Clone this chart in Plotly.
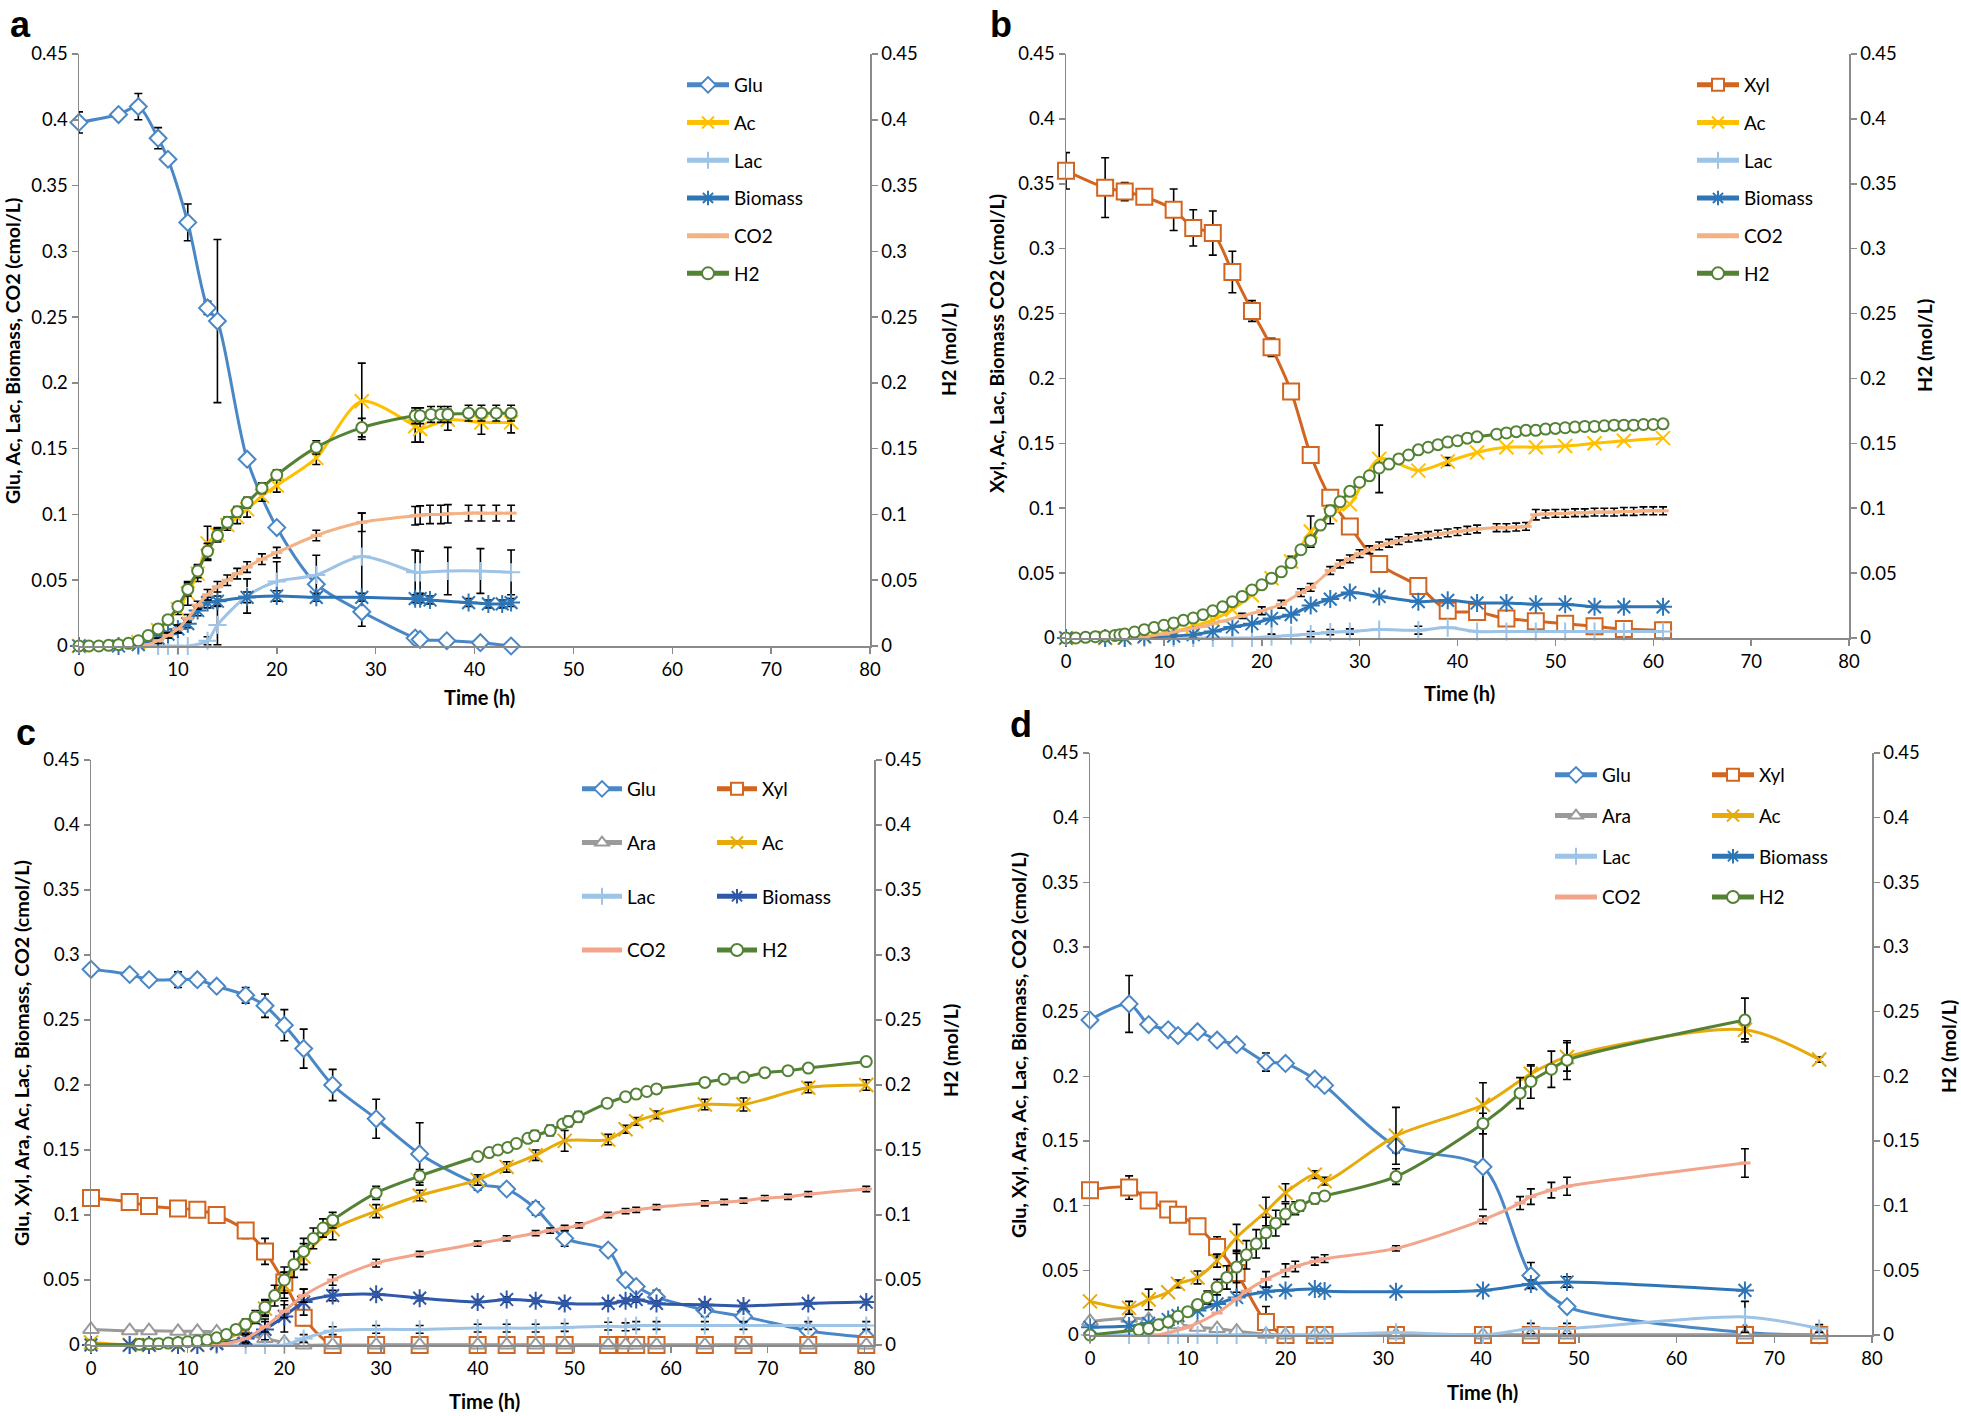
import plotly.graph_objects as go

# ---------------- tick labels ----------------
Y_TICKVALS = [0, 0.05, 0.1, 0.15, 0.2, 0.25, 0.3, 0.35, 0.4, 0.45]
Y_TICKTEXT = ["0", "0.05", "0.1", "0.15", "0.2", "0.25", "0.3", "0.35", "0.4", "0.45"]
X_TICKVALS = [0, 10, 20, 30, 40, 50, 60, 70, 80]
X_TICKTEXT = ["0", "10", "20", "30", "40", "50", "60", "70", "80"]

# ---------------- panel a ----------------
GLU_A_T = [0, 4, 6, 8, 9, 11, 13, 14, 17, 20, 24, 28.6, 34, 34.5, 37.2, 40.6, 43.7]
GLU_A = [0.398, 0.404, 0.410, 0.386, 0.370, 0.322, 0.257, 0.247, 0.142, 0.090, 0.047, 0.026, 0.006, 0.005, 0.004, 0.0025, 0.0]
GLU_A_E = [0.008, 0, 0.010, 0.008, 0, 0.014, 0.005, 0.062, 0, 0, 0, 0.011, 0.004, 0, 0.003, 0, 0]

AC_A_T = [0, 6, 8, 10, 11, 12, 13, 14, 15, 16, 17, 18.5, 20, 24, 28.6, 34, 34.5, 37.3, 40.7, 43.7]
AC_A = [0, 0.003, 0.012, 0.028, 0.040, 0.055, 0.078, 0.085, 0.092, 0.098, 0.104, 0.114, 0.122, 0.143, 0.186, 0.167, 0.165, 0.172, 0.170, 0.170]
AC_A_E = [0, 0, 0, 0.004, 0.009, 0.006, 0.013, 0.005, 0.004, 0.005, 0.006, 0.004, 0.005, 0.005, 0.029, 0.012, 0.010, 0.008, 0.009, 0.008]

LAC_A_T = [0, 6, 8, 9, 10, 11, 13, 14, 17, 20, 24, 28.6, 34, 34.5, 37.3, 40.6, 43.7]
LAC_A = [0, 0, 0, 0, 0, 0, 0.004, 0.016, 0.038, 0.049, 0.054, 0.068, 0.056, 0.056, 0.057, 0.057, 0.056]
LAC_A_E = [0, 0, 0, 0, 0, 0, 0.003, 0.015, 0.013, 0.015, 0.015, 0.033, 0.017, 0.016, 0.018, 0.017, 0.017]

BIO_A_T = [0, 4, 6, 8, 9, 10, 11, 12, 13, 14, 17, 20, 24, 28.6, 34, 34.5, 35.5, 39.4, 41.4, 42.8, 43.7]
BIO_A = [0, 0, 0.001, 0.006, 0.009, 0.013, 0.017, 0.027, 0.033, 0.034, 0.037, 0.038, 0.037, 0.037, 0.036, 0.036, 0.035, 0.033, 0.032, 0.032, 0.033]
BIO_A_E = [0, 0, 0, 0.002, 0.002, 0.003, 0.003, 0.004, 0.004, 0.004, 0.004, 0.004, 0.003, 0.003, 0.003, 0.003, 0.003, 0.003, 0.003, 0.003, 0.003]

CO2_A_T = [6, 7, 8, 9, 10, 11, 12, 13, 14, 15, 16, 17, 18.5, 20, 24, 28.6, 34, 34.5, 35.5, 36.6, 37.3, 39.4, 40.7, 42.2, 43.7]
CO2_A = [0, 0.001, 0.004, 0.008, 0.013, 0.021, 0.031, 0.039, 0.045, 0.050, 0.055, 0.060, 0.066, 0.071, 0.084, 0.094, 0.099, 0.0995, 0.100, 0.100, 0.1005, 0.101, 0.101, 0.101, 0.101]
CO2_A_E = [0, 0, 0.002, 0.002, 0.003, 0.003, 0.003, 0.004, 0.004, 0.004, 0.004, 0.004, 0.004, 0.004, 0.004, 0.007, 0.007, 0.007, 0.007, 0.007, 0.007, 0.006, 0.006, 0.006, 0.006]

H2_A_T = [0, 1, 2, 3, 4, 5, 6, 7, 8, 9, 10, 11, 12, 13, 14, 15, 16, 17, 18.5, 20, 24, 28.6, 34, 34.5, 35.6, 36.6, 37.3, 39.4, 40.7, 42.2, 43.7]
H2_A = [0, 0, 0, 0.0005, 0.001, 0.002, 0.004, 0.008, 0.013, 0.020, 0.030, 0.043, 0.057, 0.072, 0.084, 0.094, 0.102, 0.109, 0.120, 0.130, 0.151, 0.166, 0.175, 0.175, 0.176, 0.176, 0.176, 0.177, 0.177, 0.177, 0.177]
H2_A_E = [0, 0, 0, 0, 0, 0, 0, 0, 0, 0.003, 0.003, 0.005, 0.005, 0.006, 0.005, 0.004, 0.004, 0.004, 0.004, 0.004, 0.005, 0.007, 0.006, 0.006, 0.006, 0.006, 0.006, 0.006, 0.006, 0.006, 0.006]

# ---------------- panel b ----------------
T_B = [0, 4, 6, 8, 11, 13, 15, 17, 19, 21, 23, 25, 27, 29, 32, 36, 39, 42, 45, 48, 51, 54, 57, 61]
XYL_B = [0.360, 0.347, 0.344, 0.340, 0.330, 0.316, 0.312, 0.282, 0.252, 0.224, 0.190, 0.141, 0.108, 0.086, 0.057, 0.040, 0.021, 0.020, 0.015, 0.013, 0.011, 0.009, 0.007, 0.006]
XYL_B_E = [0.014, 0.023, 0.007, 0, 0.016, 0.014, 0.017, 0.016, 0.008, 0.007, 0, 0, 0, 0, 0, 0, 0, 0, 0, 0, 0, 0, 0, 0]
AC_B = [0, 0, 0, 0.001, 0.005, 0.009, 0.014, 0.022, 0.033, 0.046, 0.059, 0.082, 0.095, 0.103, 0.138, 0.129, 0.136, 0.143, 0.147, 0.147, 0.148, 0.150, 0.152, 0.154]
AC_B_E = [0, 0, 0, 0, 0, 0, 0, 0, 0, 0, 0.004, 0.012, 0.007, 0, 0.026, 0, 0.003, 0, 0, 0, 0, 0, 0, 0]
LAC_B = [0, 0, 0, 0, 0, 0, 0, 0, 0, 0.001, 0.002, 0.003, 0.0045, 0.005, 0.0065, 0.006, 0.008, 0.005, 0.005, 0.005, 0.005, 0.005, 0.005, 0.005]
LAC_B_E = [0, 0, 0, 0, 0, 0, 0, 0, 0, 0.002, 0, 0.002, 0.002, 0.002, 0, 0.003, 0, 0, 0, 0, 0, 0, 0, 0]
BIO_B = [0, 0, 0, 0.001, 0.0015, 0.0026, 0.005, 0.0085, 0.011, 0.015, 0.018, 0.025, 0.030, 0.035, 0.032, 0.028, 0.029, 0.027, 0.027, 0.026, 0.026, 0.024, 0.024, 0.024]

CO2_B_T = [6, 8, 10, 12, 14, 16, 18, 20, 22, 24, 25, 27, 28, 29, 30, 31, 32, 33, 34, 35, 36, 37, 38, 39, 40, 41, 42,
           44, 45, 46, 47, 48, 49, 50, 51, 52, 53, 54, 55, 56, 57, 58, 59, 60, 61]
CO2_B = [0, 0.001, 0.003, 0.006, 0.009, 0.013, 0.017, 0.021, 0.026, 0.035, 0.039,
         0.052, 0.057, 0.061, 0.065, 0.068, 0.071, 0.073, 0.075, 0.077, 0.078, 0.079, 0.080, 0.081, 0.082, 0.083, 0.084,
         0.085, 0.085, 0.0855, 0.086, 0.095, 0.0955, 0.096, 0.096, 0.0965, 0.0965, 0.097, 0.097, 0.097, 0.0975, 0.0975, 0.098, 0.098, 0.098]
CO2_B_E = [0, 0, 0, 0, 0, 0, 0.002, 0.003, 0.003, 0.003, 0.003,
           0.003, 0.003, 0.003, 0.003, 0.003, 0.003, 0.003, 0.003, 0.003, 0.003, 0.003, 0.003, 0.003, 0.003, 0.003, 0.003,
           0.003, 0.003, 0.003, 0.003, 0.004, 0.003, 0.003, 0.003, 0.003, 0.003, 0.003, 0.003, 0.003, 0.003, 0.003, 0.003, 0.003, 0.003]

H2_B_T = [0, 1, 2, 3, 4, 5, 5.5, 6, 7, 8, 9, 10, 11, 12, 13, 14, 15, 16, 17, 18, 19, 20, 21, 22, 23, 24, 25, 26, 27, 28,
          29, 30, 31, 32, 33, 34, 35, 36, 37, 38, 39, 40, 41, 42, 44, 45, 46, 47, 48, 49, 50, 51, 52, 53, 54, 55, 56,
          57, 58, 59, 60, 61]
H2_B = [0, 0, 0.0005, 0.001, 0.0015, 0.002, 0.0025, 0.003, 0.0046, 0.0064, 0.008, 0.0098, 0.0116, 0.0136, 0.0154, 0.018,
        0.021, 0.024, 0.028, 0.032, 0.037, 0.041, 0.046, 0.051, 0.058, 0.068, 0.075, 0.087, 0.098, 0.105,
        0.113, 0.120, 0.125, 0.131, 0.134, 0.138, 0.141, 0.145, 0.147, 0.149, 0.151, 0.152, 0.154, 0.155, 0.157, 0.158,
        0.159, 0.160, 0.160, 0.161, 0.1615, 0.162, 0.1625, 0.163, 0.163, 0.1635, 0.164, 0.164, 0.164, 0.1645, 0.1645, 0.165]

# ---------------- panel c ----------------
T_C = [0, 4, 6, 9, 11, 13, 16, 18, 20, 22, 25, 29.5, 34, 40, 43, 46, 49, 53.5, 55.3, 56.4, 58.5, 63.5, 67.5, 74.2, 80.2]
GLU_C = [0.289, 0.285, 0.281, 0.281, 0.281, 0.276, 0.269, 0.261, 0.246, 0.228, 0.200, 0.174, 0.147, 0.124, 0.120, 0.105, 0.082, 0.073, 0.050, 0.045, 0.037, 0.027, 0.022, 0.011, 0.006]
GLU_C_E = [0, 0.003, 0, 0.006, 0.004, 0, 0.006, 0.009, 0.012, 0.015, 0.012, 0.015, 0.024, 0.005, 0.004, 0.005, 0.006, 0.004, 0, 0, 0.005, 0.005, 0.004, 0.004, 0.004]
XYL_C = [0.113, 0.110, 0.107, 0.105, 0.104, 0.100, 0.088, 0.072, 0.048, 0.021, 0, 0, 0, 0, 0, 0, 0, 0, 0, 0, 0, 0, 0, 0, 0]
XYL_C_E = [0, 0, 0, 0, 0, 0, 0.006, 0.010, 0.008, 0.006, 0, 0, 0, 0, 0, 0, 0, 0, 0, 0, 0, 0, 0, 0, 0]
ARA_C = [0.012, 0.011, 0.011, 0.0105, 0.0105, 0.010, 0.008, 0.005, 0.002, 0, 0, 0, 0, 0, 0, 0, 0, 0, 0, 0, 0, 0, 0, 0, 0]
AC_C = [0.002, 0, 0, 0, 0, 0.002, 0.012, 0.028, 0.046, 0.068, 0.089, 0.103, 0.115, 0.127, 0.137, 0.146, 0.157, 0.158, 0.166, 0.172, 0.177, 0.185, 0.185, 0.198, 0.200]
AC_C_E = [0, 0, 0, 0, 0, 0, 0.003, 0.006, 0.010, 0.010, 0.008, 0.005, 0.004, 0.004, 0.004, 0.004, 0.008, 0.004, 0.003, 0.003, 0.003, 0.004, 0.005, 0.004, 0.004]
LAC_C = [0, 0, 0, 0, 0, 0, 0, 0, 0, 0.005, 0.011, 0.012, 0.012, 0.013, 0.013, 0.013, 0.0135, 0.0145, 0.014, 0.015, 0.015, 0.015, 0.015, 0.015, 0.015]
LAC_C_E = [0, 0, 0, 0, 0, 0, 0, 0, 0, 0.003, 0.003, 0.003, 0.003, 0.003, 0.003, 0.003, 0.003, 0.003, 0.003, 0.003, 0.003, 0.003, 0.003, 0.003, 0.003]
BIO_C = [0, 0, 0, 0, 0, 0.001, 0.005, 0.012, 0.022, 0.033, 0.038, 0.039, 0.036, 0.033, 0.035, 0.034, 0.032, 0.032, 0.034, 0.035, 0.032, 0.031, 0.030, 0.032, 0.033]
BIO_C_E = [0, 0, 0, 0, 0, 0, 0.004, 0.008, 0.012, 0.010, 0.004, 0.002, 0.002, 0.002, 0.002, 0.002, 0.002, 0.002, 0.002, 0.002, 0.002, 0.002, 0.002, 0.002, 0.002]

CO2_C_T = [13, 14, 16, 18, 20, 22, 25, 29.5, 34, 40, 43, 46, 47.5, 49, 50.5, 53.5, 55.3, 56.4, 58.5, 63.5, 65.5, 67.5, 69.7, 72.1, 74.2, 80.2]
CO2_C = [0, 0.001, 0.005, 0.014, 0.026, 0.038, 0.050, 0.063, 0.070, 0.078, 0.082, 0.086, 0.088, 0.090, 0.092, 0.100, 0.103, 0.104, 0.106, 0.109, 0.110, 0.111, 0.113, 0.114, 0.116, 0.120]
CO2_C_E = [0, 0, 0.003, 0.004, 0.005, 0.005, 0.004, 0.003, 0.002, 0.002, 0.002, 0.002, 0.002, 0.002, 0.002, 0.002, 0.002, 0.002, 0.002, 0.002, 0.002, 0.002, 0.002, 0.002, 0.002, 0.002]

H2_C_T = [0, 5, 6, 7, 8, 9, 10, 11, 12, 13, 14, 15, 16, 17, 18, 19, 20, 21, 22, 23, 24, 25, 29.5, 34, 40,
          41.2, 42.1, 43.1, 44, 45.2, 45.9, 47.5, 48.8, 49.4, 50.4, 53.4, 55.3, 56.4, 57.5, 58.5,
          63.5, 65.5, 67.5, 69.7, 72.1, 74.2, 80.2]
H2_C = [0, 0.0005, 0.001, 0.001, 0.0015, 0.002, 0.0025, 0.003, 0.004, 0.0055, 0.008, 0.012, 0.016, 0.0215, 0.029,
        0.038, 0.050, 0.062, 0.072, 0.082, 0.090, 0.096, 0.117, 0.130, 0.145,
        0.148, 0.150, 0.152, 0.155, 0.159, 0.161, 0.165, 0.170, 0.172, 0.1755, 0.186, 0.191, 0.193, 0.195, 0.197,
        0.202, 0.2045, 0.206, 0.2095, 0.211, 0.213, 0.218]
H2_C_E = [0, 0, 0, 0, 0, 0, 0, 0, 0, 0, 0, 0.003, 0.004, 0.005, 0.006, 0.008, 0.010, 0.010, 0.010, 0.008, 0.007, 0.006,
          0.005, 0.005, 0, 0, 0, 0, 0, 0, 0.004, 0.004, 0, 0.004, 0.004, 0, 0, 0, 0, 0, 0, 0, 0, 0, 0, 0, 0]

# ---------------- panel d ----------------
T_D = [0, 4, 6, 8, 9, 11, 13, 15, 18, 20, 23, 24, 31.3, 40.2, 45.1, 48.8, 67, 74.6]
GLU_D = [0.2435, 0.256, 0.240, 0.236, 0.2315, 0.2345, 0.228, 0.2245, 0.211, 0.210, 0.198, 0.193, 0.146, 0.130, 0.046, 0.022, 0.002, 0]
GLU_D_E = [0, 0.022, 0, 0, 0, 0.002, 0.003, 0, 0.007, 0.004, 0, 0.004, 0.005, 0.033, 0.010, 0, 0, 0]
XYL_D = [0.112, 0.114, 0.104, 0.097, 0.093, 0.084, 0.068, 0.048, 0.010, 0, 0, 0, 0, 0, 0, 0, 0, 0]
XYL_D_E = [0, 0.009, 0, 0, 0, 0, 0.008, 0.015, 0.012, 0, 0, 0, 0, 0, 0, 0, 0, 0]
ARA_D = [0.0105, 0.013, 0.012, 0.009, 0.008, 0.006, 0.005, 0.003, 0.0005, 0, 0, 0, 0, 0, 0, 0, 0, 0]
AC_D = [0.026, 0.021, 0.0275, 0.033, 0.0395, 0.0445, 0.0575, 0.0755, 0.0955, 0.110, 0.124, 0.119, 0.154, 0.178, 0.202, 0.215, 0.236, 0.213]
AC_D_E = [0, 0.005, 0.008, 0, 0.003, 0.005, 0.005, 0.010, 0.011, 0.007, 0.003, 0.003, 0.022, 0.017, 0.006, 0.011, 0.007, 0.002]
LAC_D = [0, 0, 0, 0, 0, 0, 0, 0, 0, 0, 0, 0, 0.002, 0, 0.005, 0.005, 0.014, 0.005]
LAC_D_E = [0, 0, 0, 0, 0, 0, 0, 0, 0, 0, 0, 0, 0, 0, 0.004, 0.004, 0.012, 0.003]
BIO_D_T = [0, 4, 6, 8, 9, 11, 13, 15, 18, 20, 23, 24, 31.3, 40.2, 45.1, 48.8, 67]
BIO_D = [0.006, 0.007, 0.009, 0.012, 0.015, 0.019, 0.024, 0.029, 0.0335, 0.0345, 0.0355, 0.034, 0.0335, 0.0345, 0.0395, 0.041, 0.0345]
BIO_D_E = [0, 0, 0, 0, 0, 0, 0, 0, 0, 0, 0, 0, 0, 0, 0.003, 0.004, 0]
CO2_D_T = [7, 10, 13, 15, 16, 18, 20, 21, 23, 24, 31.3, 40.2, 44, 45.1, 47.2, 48.8, 67]
CO2_D = [0, 0.006, 0.017, 0.028, 0.034, 0.043, 0.050, 0.053, 0.057, 0.059, 0.067, 0.089, 0.102, 0.107, 0.112, 0.115, 0.133]
CO2_D_E = [0, 0, 0, 0, 0, 0.006, 0.005, 0.004, 0.003, 0.003, 0.002, 0.003, 0.005, 0.006, 0.006, 0.007, 0.011]
H2_D_T = [0, 5, 6, 7, 8, 9, 10, 11, 12, 13, 14, 15, 16, 17, 18, 19, 20, 21, 21.5, 23, 24, 31.3, 40.2, 44, 45.1, 47.2, 48.8, 67]
H2_D = [0, 0.004, 0.005, 0.008, 0.010, 0.0145, 0.018, 0.0235, 0.029, 0.037, 0.0445, 0.0525, 0.062, 0.0705, 0.079,
        0.0865, 0.0935, 0.098, 0.100, 0.1055, 0.1075, 0.1225, 0.1635, 0.187, 0.196, 0.2055, 0.2125, 0.2435]
H2_D_E = [0, 0, 0, 0, 0, 0, 0, 0.003, 0.005, 0.006, 0.009, 0.012, 0.011, 0.011, 0.012, 0.010, 0.008, 0.005, 0.004,
          0.004, 0.003, 0.006, 0.008, 0.012, 0.013, 0.014, 0.015, 0.017]

# ---------------- styling ----------------
W, H = 1961, 1416
FONT = "Lato"
C_GLU = "#4A87C6"
C_XYL = "#D2651F"
C_ARA = "#9A9A9A"
C_AC1 = "#FFC000"
C_AC2 = "#E6AA0A"
C_LAC = "#9DC3E6"
C_BIO1 = "#2E75B6"
C_BIO2 = "#2F58A8"
C_CO21 = "#F4B183"
C_CO22 = "#F3A58C"
C_H2 = "#548235"
AXIS_COL = "#8A8A8A"

STYLES = {
    "Glu": dict(symbol="diamond", size=13, color="white", lc=C_GLU, lw=2),
    "Xyl": dict(symbol="square", size=16, color="white", lc=C_XYL, lw=2),
    "Ara": dict(symbol="triangle-up", size=14, color="white", lc=C_ARA, lw=2),
    "Ac": dict(symbol="x-thin-open", size=14, color=None, lc=None, lw=2),
    "Lac": dict(symbol="cross-thin-open", size=13, color=None, lc=None, lw=2),
    "Biomass": dict(symbol="asterisk-open", size=15, color=None, lc=None, lw=2),
    "CO2": dict(symbol="line-ew-open", size=8, color=None, lc=None, lw=3),
    "H2": dict(symbol="circle", size=11, color="white", lc=C_H2, lw=2),
}

# panel geometry in pixels (left, right, top, bottom) and x max
PANELS = [
    dict(l=79, r=870, t=54, b=646, xmax=80),
    dict(l=1066, r=1849, t=54, b=638, xmax=80),
    dict(l=91, r=874, t=760, b=1345, xmax=81),
    dict(l=1090, r=1872, t=753, b=1335, xmax=80),
]

fig = go.Figure()


def err_arr(e):
    return [("NaN" if v == 0 else v) for v in e]


def add(panel, name, t, v, e, line_color, legend, right=False):
    st = STYLES[name]
    mc = st["color"] if st["color"] is not None else line_color
    mlc = st["lc"] if st["lc"] is not None else line_color
    xa = "x" if panel == 0 else "x%d" % (panel + 1)
    ya_idx = 2 * panel + (2 if right else 1)
    ya = "y" if ya_idx == 1 else "y%d" % ya_idx
    tr = go.Scatter(
        x=t, y=v, name=name, mode="lines+markers",
        line=dict(color=line_color, width=3, shape="spline", smoothing=0.8),
        marker=dict(symbol=st["symbol"], size=st["size"], color=mc,
                    line=dict(color=mlc, width=st["lw"])),
        xaxis=xa, yaxis=ya, cliponaxis=False,
        legend=legend, legendgroup="%s_%d" % (name, panel),
        hoverinfo="skip",
    )
    if e is not None:
        tr.error_y = dict(type="data", array=err_arr(e), symmetric=True, visible=True,
                          color="black", thickness=1.6, width=4)
    fig.add_trace(tr)


# panel a
add(0, "Glu", GLU_A_T, GLU_A, GLU_A_E, C_GLU, "legend")
add(0, "Ac", AC_A_T, AC_A, AC_A_E, C_AC1, "legend")
add(0, "Lac", LAC_A_T, LAC_A, LAC_A_E, C_LAC, "legend")
add(0, "Biomass", BIO_A_T, BIO_A, BIO_A_E, C_BIO1, "legend")
add(0, "CO2", CO2_A_T, CO2_A, CO2_A_E, C_CO21, "legend")
add(0, "H2", H2_A_T, H2_A, H2_A_E, C_H2, "legend", right=True)

# panel b
add(1, "Xyl", T_B, XYL_B, XYL_B_E, C_XYL, "legend2")
add(1, "Ac", T_B, AC_B, AC_B_E, C_AC1, "legend2")
add(1, "Lac", T_B, LAC_B, LAC_B_E, C_LAC, "legend2")
add(1, "Biomass", T_B, BIO_B, None, C_BIO1, "legend2")
add(1, "CO2", CO2_B_T, CO2_B, CO2_B_E, C_CO21, "legend2")
add(1, "H2", H2_B_T, H2_B, None, C_H2, "legend2", right=True)

# panel c
add(2, "Glu", T_C, GLU_C, GLU_C_E, C_GLU, "legend3")
add(2, "Xyl", T_C, XYL_C, XYL_C_E, C_XYL, "legend4")
add(2, "Ara", T_C, ARA_C, None, C_ARA, "legend3")
add(2, "Ac", T_C, AC_C, AC_C_E, C_AC2, "legend4")
add(2, "Lac", T_C, LAC_C, LAC_C_E, C_LAC, "legend3")
add(2, "Biomass", T_C, BIO_C, BIO_C_E, C_BIO2, "legend4")
add(2, "CO2", CO2_C_T, CO2_C, CO2_C_E, C_CO22, "legend3")
add(2, "H2", H2_C_T, H2_C, H2_C_E, C_H2, "legend4", right=True)

# panel d
add(3, "Glu", T_D, GLU_D, GLU_D_E, C_GLU, "legend5")
add(3, "Xyl", T_D, XYL_D, XYL_D_E, C_XYL, "legend6")
add(3, "Ara", T_D, ARA_D, None, C_ARA, "legend5")
add(3, "Ac", T_D, AC_D, AC_D_E, C_AC2, "legend6")
add(3, "Lac", T_D, LAC_D, LAC_D_E, C_LAC, "legend5")
add(3, "Biomass", BIO_D_T, BIO_D, BIO_D_E, C_BIO1, "legend6")
add(3, "CO2", CO2_D_T, CO2_D, CO2_D_E, C_CO22, "legend5")
add(3, "H2", H2_D_T, H2_D, H2_D_E, C_H2, "legend6", right=True)

layout = dict(
    width=W, height=H, margin=dict(l=0, r=0, t=0, b=0, pad=0, autoexpand=False),
    paper_bgcolor="white", plot_bgcolor="rgba(0,0,0,0)",
    font=dict(family=FONT, size=18, color="black"),
    hovermode=False,
)

TICK_FONT = dict(family=FONT, size=18.5, color="black")
for i, p in enumerate(PANELS):
    xd = [p["l"] / W, p["r"] / W]
    yd = [1 - p["b"] / H, 1 - p["t"] / H]
    xk = "xaxis" if i == 0 else "xaxis%d" % (i + 1)
    ylk = "yaxis" if i == 0 else "yaxis%d" % (2 * i + 1)
    yrk = "yaxis%d" % (2 * i + 2)
    xname = "x" if i == 0 else "x%d" % (i + 1)
    ylname = "y" if i == 0 else "y%d" % (2 * i + 1)
    common = dict(showgrid=False, zeroline=False, showline=True, linecolor=AXIS_COL, linewidth=1.5,
                  ticks="outside", ticklen=6, tickcolor=AXIS_COL, tickwidth=1.5, automargin=False,
                  tickfont=TICK_FONT)
    layout[xk] = dict(domain=xd, anchor=ylname, range=[0, p["xmax"]], tickvals=X_TICKVALS, ticktext=X_TICKTEXT,
                      **common)
    layout[ylk] = dict(domain=yd, anchor=xname, range=[0, 0.45], tickvals=Y_TICKVALS, ticktext=Y_TICKTEXT,
                       **common)
    layout[yrk] = dict(overlaying=ylname, anchor=xname, side="right", range=[0, 0.45], tickvals=Y_TICKVALS,
                       ticktext=Y_TICKTEXT, **common)

LEG = dict(font=dict(family=FONT, size=19, color="black"), bgcolor="rgba(0,0,0,0)",
           xanchor="left", yanchor="top", traceorder="grouped", itemsizing="constant")
layout["legend"] = dict(x=682 / W, y=1 - 66 / H, tracegroupgap=10, itemwidth=42, **LEG)
layout["legend2"] = dict(x=1692 / W, y=1 - 66 / H, tracegroupgap=10, itemwidth=42, **LEG)
layout["legend3"] = dict(x=577 / W, y=1 - 770 / H, tracegroupgap=26, itemwidth=40, **LEG)
layout["legend4"] = dict(x=712 / W, y=1 - 770 / H, tracegroupgap=26, itemwidth=40, **LEG)
layout["legend5"] = dict(x=1550 / W, y=1 - 756 / H, tracegroupgap=13, itemwidth=42, **LEG)
layout["legend6"] = dict(x=1707 / W, y=1 - 756 / H, tracegroupgap=13, itemwidth=42, **LEG)

fig.update_layout(**layout)

ann = []


def label(text, x, y, size, family, angle=0, xanchor="center", yanchor="middle"):
    ann.append(dict(text=text, x=x / W, y=1 - y / H, xref="paper", yref="paper", showarrow=False,
                    textangle=angle, xanchor=xanchor, yanchor=yanchor,
                    font=dict(family=family, size=size, color="black")))


# panel letters
label("<b>a</b>", 8, 47, 36, "Liberation Sans", xanchor="left", yanchor="bottom")
label("<b>b</b>", 988, 47, 36, "Liberation Sans", xanchor="left", yanchor="bottom")
label("<b>c</b>", 14, 755, 36, "Liberation Sans", xanchor="left", yanchor="bottom")
label("<b>d</b>", 1008, 747, 36, "Liberation Sans", xanchor="left", yanchor="bottom")

# y titles
label("<b>Glu, Ac, Lac, Biomass, CO2 (cmol/L)</b>", 12, 351, 19.5, FONT, angle=-90)
label("<b>H2 (mol/L)</b>", 949, 350, 19.5, FONT, angle=-90)
label("<b>Xyl, Ac, Lac, Biomass CO2 (cmol/L)</b>", 996, 344, 19.5, FONT, angle=-90)
label("<b>H2 (mol/L)</b>", 1925, 346, 19.5, FONT, angle=-90)
label("<b>Glu, Xyl, Ara, Ac, Lac, Biomass, CO2 (cmol/L)</b>", 21, 1053, 19.7, FONT, angle=-90)
label("<b>H2 (mol/L)</b>", 950, 1051, 19.5, FONT, angle=-90)
label("<b>Glu, Xyl, Ara, Ac, Lac, Biomass, CO2 (cmol/L)</b>", 1018, 1045, 19.7, FONT, angle=-90)
label("<b>H2 (mol/L)</b>", 1948, 1047, 19.5, FONT, angle=-90)

# x titles
label("<b>Time (h)</b>", 479, 697, 20, FONT)
label("<b>Time (h)</b>", 1459, 693, 20, FONT)
label("<b>Time (h)</b>", 484, 1401, 20, FONT)
label("<b>Time (h)</b>", 1482, 1392, 20, FONT)

fig.update_layout(annotations=ann)
fig.write_html("out.html", config={"displayModeBar": False, "staticPlot": True},
               post_script="document.body.style.margin='0';document.body.style.overflow='hidden';")
